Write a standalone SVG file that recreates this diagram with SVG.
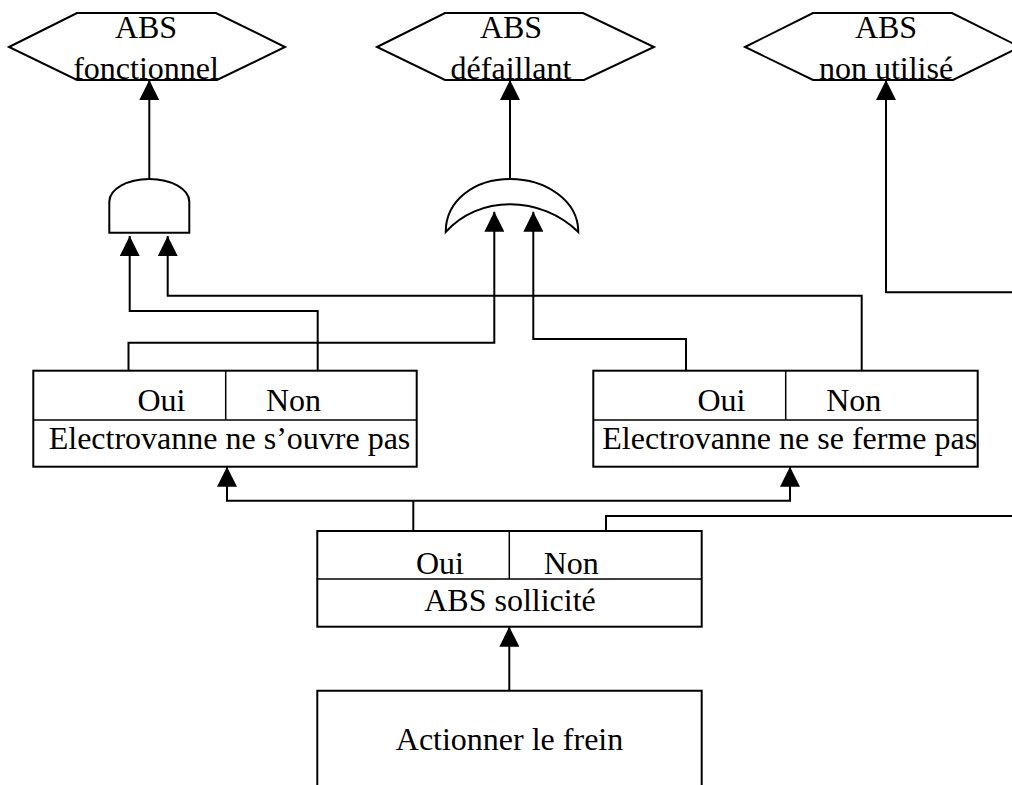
<svg xmlns="http://www.w3.org/2000/svg" width="1012" height="785" viewBox="0 0 1012 785">
<style>
.sh{fill:#fff;stroke:#000;stroke-width:2}
.dv{stroke:#000;stroke-width:1.5;fill:none}
.cn{fill:none;stroke:#000;stroke-width:2}
.t{font-family:"Liberation Serif","Times New Roman",serif;font-size:32px;fill:#000;text-anchor:middle}
</style>
<defs>
<marker id="ah" markerUnits="userSpaceOnUse" markerWidth="20" markerHeight="20" viewBox="0 0 20 20" refX="20" refY="10" orient="auto">
<path d="M0,0 L20,10 L0,20 Z" fill="#000"/>
</marker>
</defs>
<rect width="1012" height="785" fill="#fff"/>
<g id="hex-fonctionnel">
<polygon class="sh" points="9,47 77,13 216,13 285,47 217,80 77,80"/>
<text class="t" x="146" y="38">ABS</text>
<text class="t" x="146" y="79">fonctionnel</text>
</g>
<g id="hex-defaillant">
<polygon class="sh" points="377,47 445,13 583,13 654,47 584,80 445,80"/>
<text class="t" x="511" y="38">ABS</text>
<text class="t" x="511" y="79">défaillant</text>
</g>
<g id="hex-nonutilise">
<polygon class="sh" points="745,47 813,13 952,13 1020,47 953,80 813,80"/>
<text class="t" x="886" y="38">ABS</text>
<text class="t" x="886" y="79">non utilisé</text>
</g>
<g id="gate-and">
<path class="sh" d="M109.3,232.7 V201.7 A40,22.7 0 0 1 189.3,201.7 V232.7 Z"/>
</g>
<g id="gate-or">
<path class="sh" d="M445.7,232 C445.7,200 475,179 510,179 C545,179 578.3,200 578.3,232 C560,214 535,204.3 510,204.3 C485,204.3 462,214 445.7,232 Z"/>
</g>
<g id="box-ouvre">
<rect class="sh" x="33.3" y="370.7" width="383.4" height="96"/>
<line class="dv" x1="33.3" y1="420" x2="416.7" y2="420"/>
<line class="dv" x1="225.7" y1="370.7" x2="225.7" y2="420"/>
<text class="t" x="161.5" y="411">Oui</text>
<text class="t" x="293.5" y="411">Non</text>
<text class="t" x="229.5" y="449">Electrovanne ne s’ouvre pas</text>
</g>
<g id="box-ferme">
<rect class="sh" x="593.3" y="370.7" width="384.4" height="96"/>
<line class="dv" x1="593.3" y1="420" x2="977.7" y2="420"/>
<line class="dv" x1="785.7" y1="370.7" x2="785.7" y2="420"/>
<text class="t" x="721.5" y="411">Oui</text>
<text class="t" x="853.7" y="411">Non</text>
<text class="t" x="789.7" y="449">Electrovanne ne se ferme pas</text>
</g>
<g id="box-sollicite">
<rect class="sh" x="317.3" y="531" width="384.4" height="95.7"/>
<line class="dv" x1="317.3" y1="579" x2="701.7" y2="579"/>
<line class="dv" x1="509.3" y1="531" x2="509.3" y2="579"/>
<text class="t" x="440" y="574">Oui</text>
<text class="t" x="571.3" y="574">Non</text>
<text class="t" x="510" y="611">ABS sollicité</text>
</g>
<g id="box-frein">
<path class="sh" d="M317.3,790 V690.7 H701.7 V790"/>
<text class="t" x="509.5" y="750">Actionner le frein</text>
</g>
<g id="connectors">
<line class="cn" x1="149.3" y1="179" x2="149.3" y2="80" marker-end="url(#ah)"/>
<line class="cn" x1="510" y1="179" x2="510" y2="80" marker-end="url(#ah)"/>
<polyline class="cn" points="1012,292.3 886,292.3 886,80" marker-end="url(#ah)"/>
<polyline class="cn" points="317.7,370.7 317.7,311 129.7,311 129.7,236" marker-end="url(#ah)"/>
<polyline class="cn" points="861.7,370.7 861.7,295.7 167.7,295.7 167.7,236" marker-end="url(#ah)"/>
<polyline class="cn" points="128.5,370.7 128.5,342.7 494.3,342.7 494.3,211.7" marker-end="url(#ah)"/>
<polyline class="cn" points="686,370.7 686,339 533.3,339 533.3,211.7" marker-end="url(#ah)"/>
<line class="cn" x1="413.3" y1="531" x2="413.3" y2="500.7"/>
<polyline class="cn" points="413.3,500.7 227,500.7 227,466.7" marker-end="url(#ah)"/>
<polyline class="cn" points="413.3,500.7 790,500.7 790,466.7" marker-end="url(#ah)"/>
<polyline class="cn" points="606,531 606,516 1012,516"/>
<line class="cn" x1="509.3" y1="690.7" x2="509.3" y2="626.7" marker-end="url(#ah)"/>
</g>
</svg>
